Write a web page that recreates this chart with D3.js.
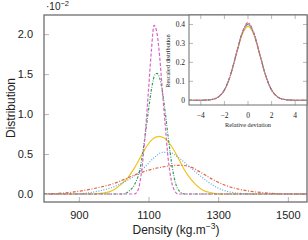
<!DOCTYPE html>
<html>
<head>
<meta charset="utf-8">
<script src="https://cdn.jsdelivr.net/npm/d3@7"></script>
<style>
  body { margin: 0; background: #fff; }
  svg { display: block; }
  .main text { font-family: "Liberation Sans", sans-serif; fill: #222; }
  .inset text { font-family: "Liberation Serif", serif; fill: #222; }
</style>
</head>
<body>
<div id="chart"></div>
<script>
// Main plot: density (kg.m-3) vs distribution (x 10^-2)
const densityTicks = [900, 1100, 1300, 1500];
const distTicks = [0.0, 0.5, 1.0, 1.5, 2.0];

const pinkDensity = [800, 1060, 1070, 1080, 1090, 1100, 1108, 1116, 1124, 1132, 1140, 1148, 1156, 1165, 1175, 1185, 1555];
const pinkValue   = [0, 0, 0.05, 0.28, 0.72, 1.30, 1.78, 2.11, 2.02, 1.72, 1.28, 0.86, 0.46, 0.18, 0.04, 0, 0];

const greenDensity = [800, 1025, 1045, 1060, 1075, 1090, 1100, 1110, 1118, 1124, 1132, 1140, 1148, 1158, 1168, 1178, 1190, 1205, 1555];
const greenValue   = [0, 0, 0.04, 0.12, 0.30, 0.72, 1.05, 1.35, 1.49, 1.51, 1.45, 1.28, 1.02, 0.66, 0.34, 0.13, 0.03, 0, 0];

const yellowDensity = [800, 940, 970, 1000, 1021, 1040, 1059, 1078, 1097, 1116, 1130, 1145, 1164, 1183, 1202, 1217, 1235, 1255, 1280, 1310, 1555];
const yellowValue   = [0, 0, 0.01, 0.05, 0.12, 0.20, 0.32, 0.47, 0.61, 0.70, 0.72, 0.70, 0.61, 0.47, 0.31, 0.21, 0.12, 0.05, 0.015, 0, 0];

const blueDensity = [800, 880, 920, 960, 1000, 1030, 1060, 1090, 1115, 1140, 1160, 1185, 1210, 1245, 1285, 1320, 1360, 1400, 1555];
const blueValue   = [0, 0, 0.01, 0.04, 0.09, 0.15, 0.23, 0.34, 0.45, 0.52, 0.52, 0.46, 0.37, 0.24, 0.11, 0.04, 0.01, 0, 0];

const redDensity = [800, 850, 900, 950, 1000, 1050, 1080, 1110, 1150, 1190, 1220, 1250, 1285, 1320, 1360, 1400, 1450, 1500, 1555];
const redValue   = [0, 0.01, 0.035, 0.075, 0.13, 0.22, 0.27, 0.31, 0.345, 0.36, 0.34, 0.27, 0.18, 0.11, 0.06, 0.03, 0.01, 0, 0];

// Inset: rescaled distribution vs relative deviation
const devTicks = [-4, -2, 0, 2, 4];
const rescaledTicks = [0, 0.1, 0.2, 0.3, 0.4];
const deviation = [-5, -4.5, -4, -3.5, -3, -2.5, -2, -1.5, -1, -0.5, 0, 0.5, 1, 1.5, 2, 2.5, 3, 3.5, 4, 4.5, 5];
const yellowRescaled = [0, 0, 0.0002, 0.001, 0.005, 0.018, 0.054, 0.128, 0.238, 0.345, 0.390, 0.346, 0.240, 0.130, 0.055, 0.018, 0.005, 0.001, 0.0002, 0, 0];
const blueRescaled   = [0, 0, 0.0002, 0.001, 0.005, 0.018, 0.054, 0.130, 0.242, 0.350, 0.398, 0.350, 0.242, 0.130, 0.054, 0.018, 0.005, 0.001, 0.0002, 0, 0];
const redRescaled    = [0, 0, 0.0002, 0.001, 0.005, 0.018, 0.054, 0.130, 0.244, 0.356, 0.410, 0.354, 0.242, 0.129, 0.053, 0.018, 0.005, 0.001, 0.0002, 0, 0];
const greenRescaled  = [0, 0, 0.0002, 0.001, 0.005, 0.018, 0.055, 0.131, 0.243, 0.352, 0.400, 0.351, 0.242, 0.130, 0.054, 0.018, 0.005, 0.001, 0.0002, 0, 0];
const pinkRescaled   = [0, 0, 0.0002, 0.001, 0.005, 0.018, 0.054, 0.130, 0.243, 0.354, 0.405, 0.352, 0.242, 0.130, 0.054, 0.018, 0.005, 0.001, 0.0002, 0, 0];

const W = 308, H = 240;
let svg = d3.select("#chart").append("svg").attr("width", W).attr("height", H);

// series styling, drawn in this order
let styles = {
    yellow: {color: "#f0c419", dash: null},
    blue:   {color: "#5ea8e8", dash: "1,1.6"},
    red:    {color: "#e4623f", dash: "3,1.6,1,1.6"},
    green:  {color: "#2f9e52", dash: "2.6,1.4,0.9,1.4"},
    pink:   {color: "#d965c6", dash: "3.2,1.8"}
};

/**
 * Draws the big density plot.
 */
function drawMain() {
    let g = svg.append("g").attr("class", "main");
    let x = d3.scaleLinear().domain([800, 1555]).range([44, 307]);
    let y = d3.scaleLinear().domain([-0.1, 2.24]).range([202, 15]);

    let series = [
        ["yellow", yellowDensity, yellowValue],
        ["blue", blueDensity, blueValue],
        ["red", redDensity, redValue],
        ["green", greenDensity, greenValue],
        ["pink", pinkDensity, pinkValue]
    ];
    let line = d3.line().x(d => x(d[0])).y(d => y(d[1])).curve(d3.curveMonotoneX);
    series.forEach(function(s) {
        let pts = s[1].map((d, i) => [d, s[2][i]]);
        g.append("path")
            .attr("d", line(pts))
            .attr("fill", "none")
            .attr("stroke", styles[s[0]].color)
            .attr("stroke-width", 1.2)
            .attr("stroke-dasharray", styles[s[0]].dash);
    });

    // ticks go inward, pgfplots style
    let xAxis = d3.axisBottom(x).tickValues(densityTicks).tickSizeInner(-5).tickSizeOuter(0).tickPadding(9)
        .tickFormat(d3.format("d"));
    let gx = g.append("g").attr("transform", "translate(0,202)").call(xAxis);
    gx.select(".domain").remove();
    gx.selectAll("line").attr("stroke", "#b5b5b5");
    gx.selectAll("text").attr("font-size", 11).attr("font-family", "Liberation Sans");

    let yAxis = d3.axisLeft(y).tickValues(distTicks).tickSizeInner(-5).tickSizeOuter(0).tickPadding(11)
        .tickFormat(d3.format(".1f"));
    let gy = g.append("g").attr("transform", "translate(44,0)").call(yAxis);
    gy.select(".domain").remove();
    gy.selectAll("line").attr("stroke", "#b5b5b5");
    gy.selectAll("text").attr("font-size", 11).attr("font-family", "Liberation Sans");

    // frame
    g.append("rect").attr("x", 44).attr("y", 15).attr("width", 263).attr("height", 187)
        .attr("fill", "none").attr("stroke", "#6e6e6e").attr("stroke-width", 1.3);

    let mult = g.append("text").attr("x", 46).attr("y", 10).attr("font-size", 10);
    mult.append("tspan").text("\u00b710");
    mult.append("tspan").attr("dy", -4).attr("font-size", 7.5).text("\u22122");

    g.append("text").attr("transform", "translate(15,108) rotate(-90)")
        .attr("text-anchor", "middle").attr("font-size", 12).text("Distribution");

    let xl = g.append("text").attr("x", 176).attr("y", 234).attr("text-anchor", "middle").attr("font-size", 12);
    xl.append("tspan").text("Density (kg.m");
    xl.append("tspan").attr("dy", -5).attr("font-size", 8.5).text("\u22123");
    xl.append("tspan").attr("dy", 5).text(")");
}

/**
 * Draws the inset with all curves rescaled onto one another.
 */
function drawInset() {
    let g = svg.append("g").attr("class", "inset");
    let x = d3.scaleLinear().domain([-5, 5]).range([189, 307]);
    let y = d3.scaleLinear().domain([-0.025, 0.45]).range([105, 15]);

    g.append("rect").attr("x", 189).attr("y", 15).attr("width", 118).attr("height", 90).attr("fill", "#fff");

    let series = [
        ["yellow", yellowRescaled],
        ["blue", blueRescaled],
        ["red", redRescaled],
        ["green", greenRescaled],
        ["pink", pinkRescaled]
    ];
    let line = d3.line().x(d => x(d[0])).y(d => y(d[1])).curve(d3.curveMonotoneX);
    series.forEach(function(s) {
        let pts = deviation.map((d, i) => [d, s[1][i]]);
        g.append("path")
            .attr("d", line(pts))
            .attr("fill", "none")
            .attr("stroke", styles[s[0]].color)
            .attr("stroke-width", 1.1)
            .attr("stroke-dasharray", styles[s[0]].dash);
    });

    // inward ticks on every side
    devTicks.forEach(function(t) {
        g.append("line").attr("x1", x(t)).attr("x2", x(t)).attr("y1", 105).attr("y2", 101).attr("stroke", "#9a9a9a").attr("stroke-width", 0.7);
        g.append("line").attr("x1", x(t)).attr("x2", x(t)).attr("y1", 15).attr("y2", 19).attr("stroke", "#9a9a9a").attr("stroke-width", 0.7);
        g.append("text").attr("x", x(t)).attr("y", 118).attr("text-anchor", "middle").attr("font-size", 7.5)
            .text(t < 0 ? "\u2212" + Math.abs(t) : t);
    });
    rescaledTicks.forEach(function(t) {
        g.append("line").attr("x1", 189).attr("x2", 193).attr("y1", y(t)).attr("y2", y(t)).attr("stroke", "#9a9a9a").attr("stroke-width", 0.7);
        g.append("line").attr("x1", 307).attr("x2", 303).attr("y1", y(t)).attr("y2", y(t)).attr("stroke", "#9a9a9a").attr("stroke-width", 0.7);
        g.append("text").attr("x", 185).attr("y", y(t) + 2.5).attr("text-anchor", "end").attr("font-size", 7.5)
            .text(t === 0 ? "0" : t);
    });

    g.append("rect").attr("x", 189).attr("y", 15).attr("width", 118).attr("height", 90)
        .attr("fill", "none").attr("stroke", "#6e6e6e").attr("stroke-width", 1);

    g.append("text").attr("transform", "translate(170,61) rotate(-90)")
        .attr("text-anchor", "middle").attr("font-size", 6.3).text("Rescaled distribution");
    g.append("text").attr("x", 248).attr("y", 127).attr("text-anchor", "middle").attr("font-size", 6.3)
        .text("Relative deviation");
}

drawMain();
drawInset();
</script>
</body>
</html>
